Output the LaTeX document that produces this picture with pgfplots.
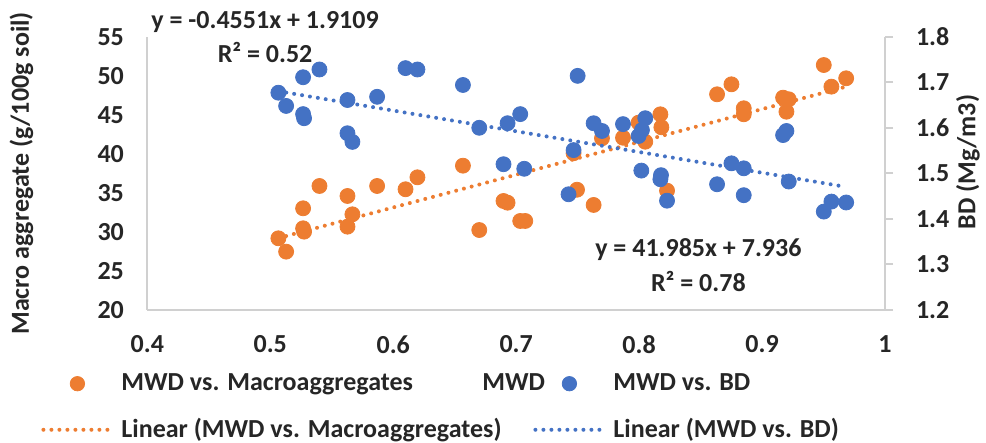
\documentclass[border=0pt]{standalone}
\usepackage{fontspec}
\setmainfont{Carlito}
\usepackage{pgfplots}
\usepackage{pgfplotstable}
\pgfplotsset{compat=1.18}

\definecolor{orng}{HTML}{ED7D31}
\definecolor{blu}{HTML}{4472C4}
\definecolor{txt}{HTML}{262626}
\definecolor{axgray}{HTML}{D0D0D0}
\newcommand{\chartfont}{\bfseries\fontsize{13.05}{15.6}\selectfont}

% MWD vs. macroaggregates (g/100g soil)
\pgfplotstableread{
x       y
0.5066  29.18
0.5129  27.47
0.5267  33.02
0.5267  30.46
0.5275  30.03
0.5400  35.88
0.5628  34.60
0.5668  32.25
0.5628  30.67
0.5869  35.88
0.6100  35.46
0.6197  36.99
0.6567  38.48
0.6700  30.24
0.6897  33.96
0.6930  33.74
0.7033  31.40
0.7074  31.40
0.7467  40.07
0.7495  35.40
0.7630  33.45
0.7698  41.99
0.7869  42.06
0.7996  43.99
0.8050  41.55
0.8173  45.06
0.8181  43.40
0.8227  35.28
0.8634  47.62
0.8751  48.90
0.8851  45.83
0.8851  45.06
0.9171  47.19
0.9217  46.98
0.9198  45.39
0.9502  51.37
0.9564  48.60
0.9684  49.67
}\macrotab

% MWD vs. bulk density (Mg/m3)
\pgfplotstableread{
x       y
0.5066  1.677
0.5129  1.648
0.5267  1.711
0.5400  1.728
0.5267  1.630
0.5275  1.621
0.5628  1.661
0.5628  1.588
0.5668  1.569
0.5869  1.668
0.6100  1.731
0.6197  1.728
0.6567  1.694
0.6700  1.600
0.6930  1.610
0.6897  1.520
0.7033  1.630
0.7066  1.510
0.7500  1.714
0.7467  1.551
0.7426  1.454
0.7630  1.610
0.7698  1.593
0.7869  1.608
0.7996  1.582
0.8023  1.595
0.8050  1.621
0.8018  1.506
0.8178  1.496
0.8173  1.487
0.8227  1.440
0.8634  1.476
0.8751  1.522
0.8851  1.511
0.8851  1.452
0.9171  1.584
0.9198  1.593
0.9217  1.482
0.9502  1.416
0.9564  1.438
0.9684  1.436
}\bdtab

\pgfplotsset{
  base/.style={
    scale only axis, width=368.85bp, height=136.65bp,
    xmin=0.4, xmax=1,
    axis line style={axgray, line width=1bp},
    every tick label/.append style={font=\chartfont, text=txt},
    /pgf/number format/assume math mode=true,
    clip=false,
  },
  trend/.style={line width=2bp, line cap=round, dash pattern=on 0bp off 4bp},
  pts/.style={only marks, mark=*, mark size=3.75bp},
}

\begin{document}
\begin{tikzpicture}
% left axis: macroaggregates
\begin{axis}[base,
  ymin=20, ymax=55, ytick={20,25,30,35,40,45,50,55},
  xtick={0.4,0.5,0.6,0.7,0.8,0.9,1},
  axis x line*=bottom, axis y line*=left,
  major tick length=0pt,
  xticklabel style={yshift=-9.2bp},
  yticklabel style={xshift=-8.2bp},
  ylabel={Macro aggregate (g/100g soil)},
  ylabel style={at={(axis description cs:-0.1707,0.5)}, anchor=center, font=\chartfont, text=txt},
]
\addplot[pts, orng] table {\macrotab};
\addplot[orng, trend] coordinates {(0.5066,29.205) (0.9684,48.595)};
\node[font=\chartfont, text=txt] at (axis cs:0.4958,56.88) {y = -0.4551x + 1.9109};
\node[font=\chartfont, text=txt] at (axis cs:0.4958,53.04) {R² = 0.52};
\node[font=\chartfont, text=txt] at (axis cs:0.8482,27.68) {y = 41.985x + 7.936};
\node[font=\chartfont, text=txt] at (axis cs:0.8482,23.62) {R² = 0.78};
\end{axis}

% right axis: bulk density
\begin{axis}[base,
  ymin=1.2, ymax=1.8, ytick={1.2,1.3,1.4,1.5,1.6,1.7,1.8},
  axis x line=none, axis y line*=right,
  xtick=\empty,
  tick align=outside, major tick length=4bp,
  ytick style={axgray, line width=1bp},
  yticklabel style={xshift=8bp, /pgf/number format/.cd, fixed, fixed zerofill, precision=1},
  ylabel={BD (Mg/m3)},
  ylabel style={at={(axis description cs:1.1125,0.5415)}, anchor=center, font=\chartfont, text=txt},
  legend columns=2,
  legend cell align=left,
  legend style={at={(axis description cs:-0.1441,-0.232)}, anchor=north west,
    draw=none, fill=none, font=\chartfont, text=txt, inner sep=0pt,
    row sep=12.5bp, nodes={inner sep=0pt},
    /tikz/every odd column/.append style={column sep=4bp},
    /tikz/every even column/.append style={column sep=6bp}},
  legend image code/.code={\draw[mark repeat=2,mark phase=2,#1] plot coordinates {(0bp,0bp) (17bp,0bp) (34bp,0bp)};},
]
\addplot[pts, blu, forget plot] table {\bdtab};
\addplot[blu, trend, forget plot] coordinates {(0.5066,1.6803) (0.9684,1.4702)};

\addlegendimage{only marks, mark=*, orng, mark size=3.6bp}
\addlegendentry{\makebox[200bp][l]{\rlap{MWD vs. Macroaggregates}\hspace*{180.5bp}\rlap{MWD}}}
\addlegendimage{only marks, mark=*, blu, mark size=3.6bp}
\addlegendentry{MWD vs. BD}
\addlegendimage{orng, trend}
\addlegendentry{Linear (MWD vs. Macroaggregates)}
\addlegendimage{blu, trend}
\addlegendentry{Linear (MWD vs. BD)}

\coordinate (bbSW) at (axis description cs:-0.1997,-0.4866);
\coordinate (bbNE) at (axis description cs:1.1369,1.1343);
\end{axis}
\pgfresetboundingbox
\useasboundingbox (bbSW) rectangle (bbNE);
\end{tikzpicture}
\end{document}
